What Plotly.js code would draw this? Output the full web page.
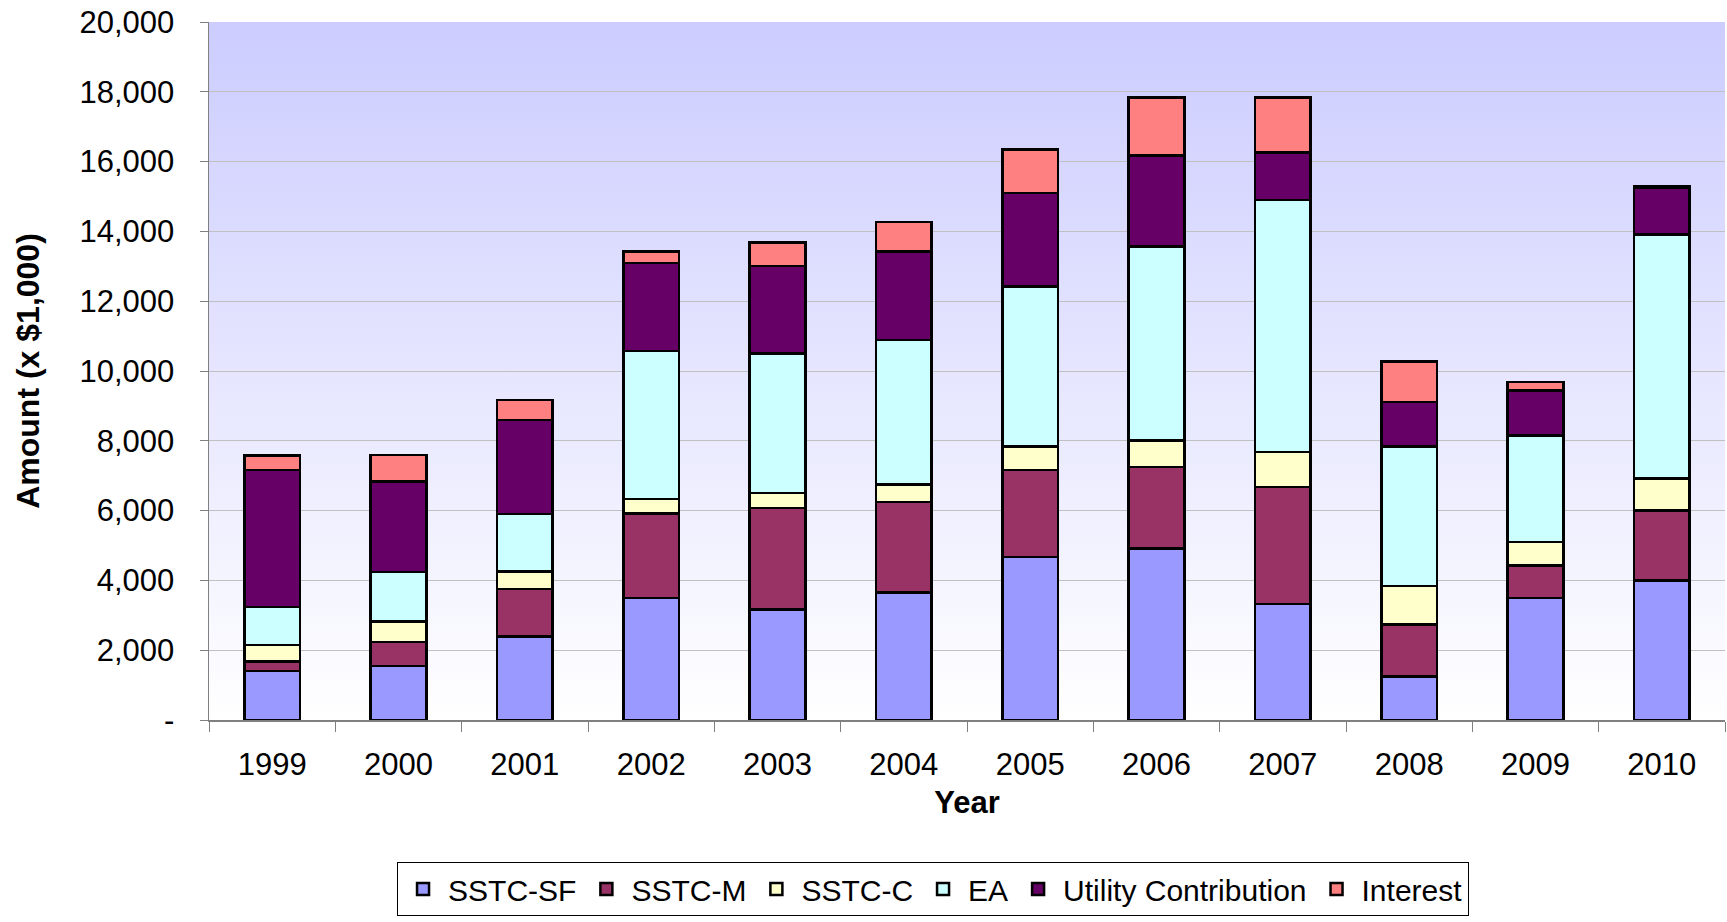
<!DOCTYPE html>
<html>
<head>
<meta charset="utf-8">
<script src="https://cdn.plot.ly/plotly-3.0.1.min.js"></script>
<style>
  html, body { margin: 0; padding: 0; background: #ffffff; }
  #chart { width: 1727px; height: 922px; }
</style>
</head>
<body>
<div id="chart"></div>
<script>
const years = ["1999","2000","2001","2002","2003","2004","2005","2006","2007","2008","2009","2010"];
const sstcSF   = [1400, 1550, 2390, 3500, 3160, 3660, 4670, 4910, 3325, 1240, 3500, 4000];
const sstcM    = [ 270,  690, 1365, 2415, 2920, 2585, 2495, 2345, 3350, 1500,  920, 2000];
const sstcC    = [ 480,  585,  500,  415,  420,  510,  670,  760, 1000, 1095,  680,  925];
const ea       = [1095, 1410, 1645, 4245, 3995, 4140, 4585, 5555, 7230, 3995, 3055, 6980];
const utility  = [3920, 2595, 2700, 2515, 2520, 2530, 2675, 2600, 1350, 1280, 1280, 1360];
const interest = [ 420,  760,  575,  335,  660,  845, 1245, 1660, 1575, 1165,  250,   40];

const seriesNames  = ["SSTC-SF", "SSTC-M", "SSTC-C", "EA", "Utility Contribution", "Interest"];
const seriesValues = [sstcSF, sstcM, sstcC, ea, utility, interest];
const seriesColors = ["#9999ff", "#993366", "#ffffcc", "#ccffff", "#660066", "#ff8080"];

const yTickVals = [0, 2000, 4000, 6000, 8000, 10000, 12000, 14000, 16000, 18000, 20000];
const yTickText = ["-", "2,000", "4,000", "6,000", "8,000", "10,000", "12,000", "14,000", "16,000", "18,000", "20,000"];

const FONT = "Liberation Sans, Arial, sans-serif";

const traces = seriesNames.map((name, i) => ({
  type: "bar",
  name: name,
  x: years,
  y: seriesValues[i],
  marker: { color: seriesColors[i], line: { color: "#000000", width: 2.5 } },
  hoverinfo: "x+y+name"
}));

const gradSvg = "<svg xmlns='http://www.w3.org/2000/svg' width='10' height='100' preserveAspectRatio='none'>" +
  "<defs><linearGradient id='g' x1='0' y1='0' x2='0' y2='1'>" +
  "<stop offset='0' stop-color='#ccccff'/><stop offset='1' stop-color='#ffffff'/>" +
  "</linearGradient></defs><rect width='10' height='100' fill='url(#g)'/></svg>";

const layout = {
  width: 1727,
  height: 922,
  margin: { l: 209, r: 2, t: 22, b: 202, pad: 0 },
  paper_bgcolor: "#ffffff",
  plot_bgcolor: "rgba(0,0,0,0)",
  barmode: "stack",
  bargap: 0.56,
  font: { family: FONT, size: 31, color: "#000000" },
  images: [{
    source: "data:image/svg+xml;charset=utf-8," + encodeURIComponent(gradSvg),
    xref: "paper", yref: "paper",
    x: 0, y: 1, sizex: 1, sizey: 1,
    xanchor: "left", yanchor: "top",
    sizing: "stretch",
    layer: "below"
  }],
  xaxis: {
    type: "category",
    tickson: "boundaries",
    ticks: "outside",
    ticklen: 10,
    tickcolor: "#808080",
    tickwidth: 1,
    showline: true,
    linecolor: "#808080",
    linewidth: 1.5,
    showgrid: false,
    tickfont: { family: FONT, size: 31, color: "#000000" },
    ticklabelstandoff: 16,
    title: { text: "<b>Year</b>", font: { family: FONT, size: 31, color: "#000000" }, standoff: 10 }
  },
  yaxis: {
    range: [0, 20000],
    tickvals: yTickVals,
    ticktext: yTickText,
    ticks: "outside",
    ticklen: 8,
    tickcolor: "#808080",
    showline: true,
    linecolor: "#808080",
    linewidth: 1.5,
    showgrid: true,
    gridcolor: "#c0c0c0",
    gridwidth: 1,
    zeroline: false,
    tickfont: { family: FONT, size: 31, color: "#000000" },
    ticklabelstandoff: 19,
    title: { text: "<b>Amount (x $1,000)</b>", font: { family: FONT, size: 32, color: "#000000" }, standoff: 30 }
  },
  showlegend: true,
  legend: {
    orientation: "h",
    x: 0.4776,
    xanchor: "center",
    y: -0.2034,
    yanchor: "top",
    traceorder: "normal",
    bordercolor: "#000000",
    borderwidth: 1,
    bgcolor: "#ffffff",
    font: { family: FONT, size: 30, color: "#000000" },
    itemwidth: 40
  }
};

Plotly.newPlot("chart", traces, layout, { displayModeBar: false, staticPlot: true });
</script>
</body>
</html>
